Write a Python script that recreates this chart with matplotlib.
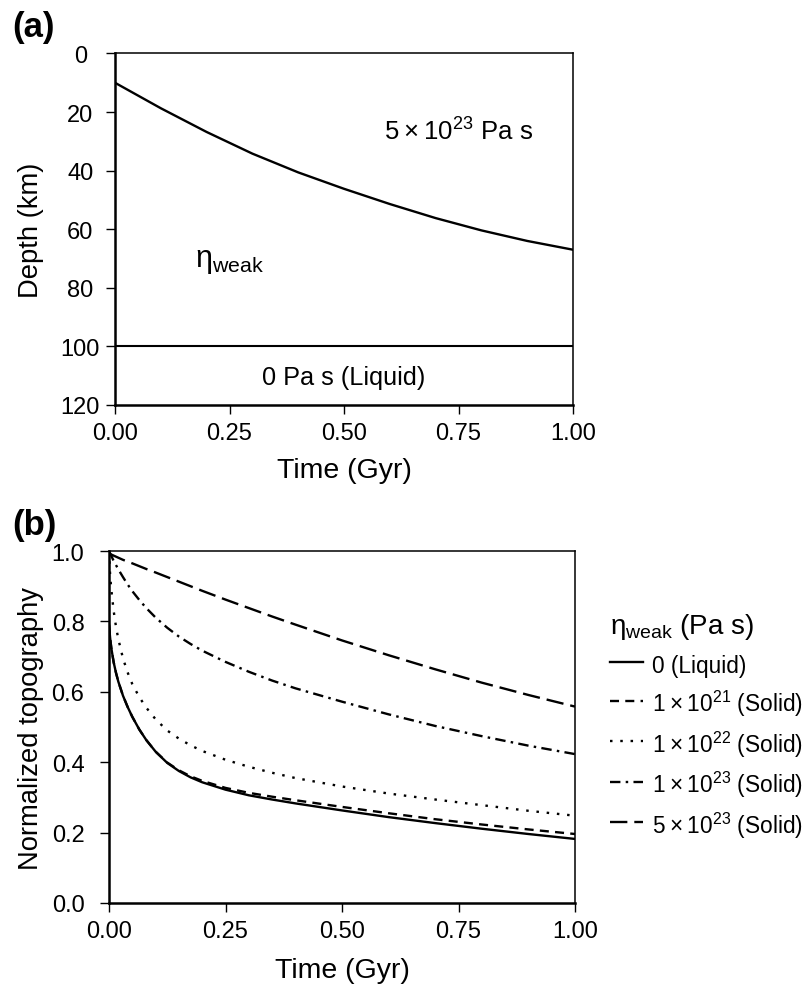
import matplotlib
matplotlib.use("Agg")
import matplotlib.pyplot as plt

plt.rcParams["font.family"] = ["Liberation Sans", "DejaVu Sans"]
plt.rcParams["mathtext.fontset"] = "custom"
plt.rcParams["mathtext.rm"] = "Liberation Sans"
plt.rcParams["mathtext.it"] = "Liberation Sans:italic"
plt.rcParams["mathtext.bf"] = "Liberation Sans:bold"
plt.rcParams["lines.scale_dashes"] = False

# ---- (a) weak-layer base depth through time ----
time_a = [0.0, 0.1, 0.2, 0.3, 0.4, 0.5, 0.6, 0.7, 0.8, 0.9, 1.0]
depth_boundary = [10.0, 18.7, 26.8, 34.2, 40.6, 46.2, 51.4, 56.2, 60.4, 64.0, 67.0]
liquid_top_depth = 100.0
depth_ticks = [0, 20, 40, 60, 80, 100, 120]
time_ticks = [0.0, 0.25, 0.5, 0.75, 1.0]
time_ticklabels = ["0.00", "0.25", "0.50", "0.75", "1.00"]

# ---- (b) normalized topography relaxation ----
time_b = [0.0, 0.0025, 0.005, 0.01, 0.015, 0.02, 0.03, 0.04, 0.05, 0.065,
          0.08, 0.1, 0.125, 0.15, 0.175, 0.2, 0.25, 0.3, 0.35, 0.4,
          0.5, 0.6, 0.7, 0.8, 0.9, 1.0]
topo_liquid = [0.79, 0.752, 0.724, 0.684, 0.654, 0.629, 0.589, 0.557, 0.529, 0.493,
               0.463, 0.43, 0.398, 0.375, 0.357, 0.343, 0.322, 0.306, 0.294, 0.283,
               0.263, 0.244, 0.227, 0.211, 0.196, 0.182]
topo_1e21 = [0.79, 0.752, 0.724, 0.684, 0.654, 0.629, 0.589, 0.557, 0.529, 0.493,
             0.463, 0.43, 0.399, 0.377, 0.36, 0.347, 0.327, 0.313, 0.302, 0.292,
             0.273, 0.255, 0.238, 0.223, 0.209, 0.196]
topo_1e22 = [1.0, 0.93, 0.89, 0.83, 0.785, 0.75, 0.695, 0.655, 0.622, 0.585,
             0.555, 0.522, 0.49, 0.467, 0.448, 0.432, 0.407, 0.387, 0.37, 0.355,
             0.331, 0.311, 0.294, 0.278, 0.262, 0.248]
topo_1e23 = [1.0, 0.993, 0.986, 0.972, 0.96, 0.948, 0.926, 0.905, 0.886, 0.861,
             0.838, 0.811, 0.782, 0.757, 0.736, 0.717, 0.685, 0.657, 0.632, 0.61,
             0.572, 0.536, 0.503, 0.474, 0.447, 0.423]
topo_5e23 = [0.993, 0.992, 0.99, 0.987, 0.984, 0.981, 0.975, 0.97, 0.965, 0.957,
             0.949, 0.939, 0.926, 0.913, 0.9, 0.887, 0.862, 0.838, 0.814, 0.791,
             0.746, 0.704, 0.664, 0.626, 0.591, 0.558]
topo_ticks = [0.0, 0.2, 0.4, 0.6, 0.8, 1.0]

TS = "\u2009"
series_b = [
    (topo_liquid, "0 (Liquid)", "-"),
    (topo_1e21, f"1{TS}×{TS}10$^{{21}}$ (Solid)", (0, (6.5, 4.5))),
    (topo_1e22, f"1{TS}×{TS}10$^{{22}}$ (Solid)", (0, (1.8, 5.6))),
    (topo_1e23, f"1{TS}×{TS}10$^{{23}}$ (Solid)", (0, (7.5, 3.8, 1.8, 3.8))),
    (topo_5e23, f"5{TS}×{TS}10$^{{23}}$ (Solid)", (0, (12.5, 5.0))),
]

fig = plt.figure(figsize=(8.05, 9.87), dpi=100)
ax_a = fig.add_axes([0.1429, 0.5887, 0.5689, 0.3561])
ax_b = fig.add_axes([0.1354, 0.0841, 0.5789, 0.3566])

XLABEL_FS = 20.5
YLABEL_FS = 19.7
TICK_FS = 17


def style_axes(ax, ypad):
    ax.spines["left"].set_linewidth(1.8)
    ax.spines["bottom"].set_linewidth(1.8)
    ax.spines["top"].set_linewidth(1.1)
    ax.spines["right"].set_linewidth(1.1)
    ax.tick_params(top=False, right=False, direction="out", length=6.5,
                   width=1.0, labelsize=TICK_FS)
    ax.tick_params(axis="x", pad=6)
    ax.tick_params(axis="y", pad=ypad)
    for lbl in ax.get_yticklabels():
        lbl.set_horizontalalignment("center")


# Panel (a)
ax_a.plot(time_a, depth_boundary, color="black", lw=1.7)
ax_a.axhline(liquid_top_depth, color="black", lw=1.5)
ax_a.set_xlim(0, 1)
ax_a.set_ylim(120, 0)
ax_a.set_xticks(time_ticks)
ax_a.set_xticklabels(time_ticklabels)
ax_a.set_yticks(depth_ticks)
ax_a.set_xlabel("Time (Gyr)", fontsize=XLABEL_FS)
ax_a.set_ylabel("Depth (km)", fontsize=YLABEL_FS)
ax_a.xaxis.set_label_coords(0.5, -0.148)
ax_a.yaxis.set_label_coords(-0.155, 0.5)
style_axes(ax_a, 18.5)
ax_a.text(0.75, 26.5, f"5{TS}×{TS}10$^{{23}}$ Pa s", fontsize=18.5,
          ha="center", va="center")
ax_a.text(0.25, 70.5, "η$_{\\mathrm{weak}}$", fontsize=22, ha="center", va="center")
ax_a.text(0.5, 110.5, "0 Pa s (Liquid)", fontsize=18.2, ha="center", va="center")

# Panel (b)
for values, label, ls in series_b:
    ax_b.plot(time_b, values, color="black", lw=1.7, ls=ls, label=label)
ax_b.set_xlim(0, 1)
ax_b.set_ylim(0, 1)
ax_b.set_xticks(time_ticks)
ax_b.set_xticklabels(time_ticklabels)
ax_b.set_yticks(topo_ticks)
ax_b.set_yticklabels([f"{v:.1f}" for v in topo_ticks])
ax_b.set_xlabel("Time (Gyr)", fontsize=XLABEL_FS)
ax_b.set_ylabel("Normalized topography", fontsize=YLABEL_FS)
ax_b.xaxis.set_label_coords(0.5, -0.153)
ax_b.yaxis.set_label_coords(-0.140, 0.5)
style_axes(ax_b, 23)

leg = ax_b.legend(loc="upper left", bbox_to_anchor=(610 / 805, 1 - 612 / 987),
                  bbox_transform=fig.transFigure, frameon=False, fontsize=16.3,
                  title="η$_{\\mathrm{weak}}$ (Pa s)", title_fontsize=20,
                  handlelength=1.45, handletextpad=0.4, handleheight=1.45,
                  labelspacing=0.45, borderaxespad=0, borderpad=0,
                  alignment="left")

fig.text(12 / 805, 1 - 27 / 987, "(a)", fontsize=25, fontweight="bold",
         ha="left", va="center")
fig.text(12 / 805, 1 - 525 / 987, "(b)", fontsize=25, fontweight="bold",
         ha="left", va="center")

fig.savefig("out.png", dpi=100)
